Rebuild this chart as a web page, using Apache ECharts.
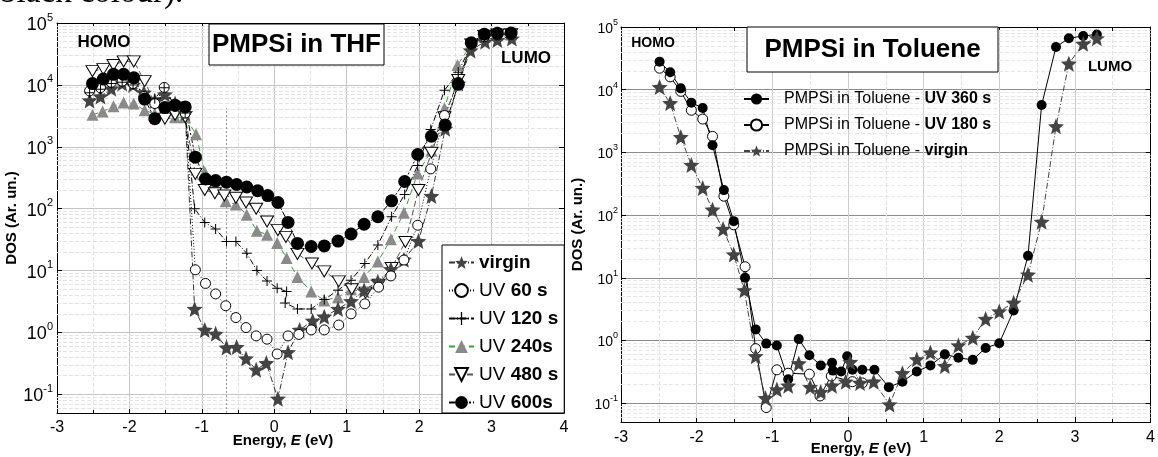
<!DOCTYPE html>
<html><head><meta charset="utf-8">
<script src="https://cdn.jsdelivr.net/npm/echarts@6/dist/echarts.min.js"></script>
<style>html,body{margin:0;padding:0;background:#fff}#c{width:1158px;height:457px}</style>
</head><body><div id="c"></div>
<script>
// ---------------- DATA ----------------
const xTickValues = [-3, -2, -1, 0, 1, 2, 3, 4];
const thfNames = ['virgin', 'UV 60 s', 'UV 120 s', 'UV 240s', 'UV 480 s', 'UV 600s'];
const toluNames = ['PMPSi in Toluene - UV 360 s', 'PMPSi in Toluene - UV 180 s', 'PMPSi in Toluene - virgin'];

const thfVirginE = [-2.55,-2.40,-2.25,-2.10,-1.95,-1.80,-1.65,-1.51,-1.37,-1.23,-1.10,-0.96,-0.81,-0.66,-0.52,-0.39,-0.25,-0.11,0.05,0.19,0.35,0.53,0.69,0.88,1.06,1.24,1.43,1.61,1.79,1.99,2.17,2.36,2.54,2.71,2.91,3.08,3.28];
const thfVirginDos = [5600,6500,8700,10500,10000,7500,5500,7000,5000,3500,2.4,1.1,0.95,0.57,0.58,0.38,0.25,0.32,0.085,0.48,1.1,1.55,1.8,2.4,3.2,4.8,6.6,10.5,15,30,160,1950,10500,36000,50000,53000,56000];

const thfUv60E = [-2.55,-2.40,-2.25,-2.10,-1.95,-1.80,-1.65,-1.52,-1.37,-1.23,-1.09,-0.95,-0.81,-0.67,-0.53,-0.39,-0.25,-0.10,0.04,0.19,0.34,0.51,0.69,0.89,1.06,1.25,1.44,1.61,1.79,1.98,2.16,2.35,2.54,2.72,2.90,3.08,3.27];
const thfUv60Dos = [8000,9000,11000,11500,10500,6500,5000,9100,4500,3500,10.3,6.2,4.2,2.7,1.74,1.2,0.88,0.78,0.45,0.88,0.93,1.1,1.1,1.32,2.0,2.9,5.4,8.2,14.8,54,440,3200,11000,45000,60000,64000,65000];

const thfUv120E = [-2.55,-2.40,-2.25,-2.10,-1.95,-1.80,-1.65,-1.52,-1.37,-1.23,-1.10,-0.96,-0.81,-0.66,-0.53,-0.38,-0.24,-0.10,0.04,0.17,0.15,0.32,0.51,0.69,0.88,1.06,1.25,1.43,1.62,1.80,1.98,2.16,2.35,2.54,2.72,2.90,3.08,3.27];
const thfUv120Dos = [7500,8500,10500,11000,10000,6000,6000,9000,4500,3500,100,60,47,29.5,29.5,19,10,6.8,5.2,4.6,3.0,2.4,2.4,3.4,4.8,7,13,26,74,170,500,1900,8200,16000,45000,60000,64000,65000];

const thfUv240E = [-2.51,-2.37,-2.22,-2.08,-1.94,-1.79,-1.65,-1.51,-1.37,-1.23,-1.08,-0.96,-0.82,-0.67,-0.53,-0.38,-0.24,-0.10,0.04,0.17,0.32,0.51,0.69,0.88,1.06,1.24,1.43,1.61,1.79,1.98,2.17,2.35,2.53,2.72,2.90,3.08,3.27];
const thfUv240Dos = [3300,3700,4500,5200,5000,3900,3400,3500,3000,3000,1600,390,257,132,117,80,44,38,28,16,7.9,4.6,3.3,3.7,5.0,7.9,14,32,86,370,870,4200,21000,45000,60000,64000,65000];

const thfUv480E = [-2.51,-2.36,-2.22,-2.08,-1.94,-1.79,-1.65,-1.51,-1.37,-1.23,-1.09,-0.96,-0.82,-0.69,-0.53,-0.39,-0.25,-0.10,0.05,0.16,0.32,0.52,0.69,0.89,1.07,1.26,1.44,1.62,1.81,1.99,2.17,2.35,2.54,2.72,2.90,3.08,3.27];
const thfUv480Dos = [16700,18000,21000,24000,24000,11500,5000,2850,3300,3000,365,200,178,163,150,126,100,62,45,35,18.6,13,9.7,6.7,5.0,4.4,5.9,11,29,200,800,3000,12000,45000,62000,65000,66000];

const thfUv600E = [-2.51,-2.36,-2.22,-2.08,-1.94,-1.79,-1.65,-1.51,-1.37,-1.23,-1.09,-0.95,-0.81,-0.66,-0.52,-0.38,-0.23,-0.09,0.05,0.19,0.32,0.51,0.69,0.88,1.06,1.24,1.43,1.62,1.80,1.98,2.17,2.36,2.54,2.72,2.90,3.08,3.27];
const thfUv600Dos = [10500,12400,14800,14800,13000,5900,2850,4300,4700,4400,680,302,285,268,246,224,195,163,126,60,27.5,24.5,25,30,39,56,74,134,275,750,1480,2240,10200,48000,66000,68000,69000];

const toluUv360E = [-2.49,-2.35,-2.21,-2.07,-1.92,-1.79,-1.64,-1.51,-1.36,-1.22,-1.08,-0.94,-0.79,-0.65,-0.51,-0.36,-0.21,-0.20,-0.09,-0.01,0.06,0.19,0.35,0.54,0.72,0.91,1.09,1.28,1.46,1.65,1.82,2.00,2.19,2.38,2.56,2.75,2.92,3.11,3.29];
const toluUv360Dos = [28000,19000,10500,6200,5100,1300,250,80,10,1.5,0.89,0.83,0.24,1.05,0.58,0.40,0.44,0.33,0.32,0.56,0.34,0.34,0.34,0.18,0.22,0.32,0.40,0.60,0.53,0.49,0.76,0.90,3.0,22.5,5700,48000,66000,72000,76000];

const toluUv180E = [-2.49,-2.35,-2.21,-2.07,-1.92,-1.79,-1.64,-1.51,-1.36,-1.22,-1.08,-0.94,-0.79,-0.51,-0.37,-0.22,0.06,0.19];
const toluUv180Dos = [22000,16000,9400,4700,3400,1800,200,70,15,0.74,0.085,0.34,0.30,0.29,0.13,0.27,0.22,0.21];

const toluVirginE = [-2.49,-2.35,-2.21,-2.07,-1.92,-1.79,-1.65,-1.51,-1.37,-1.22,-1.09,-0.94,-0.79,-0.65,-0.50,-0.36,-0.21,-0.03,0.03,0.16,0.34,0.55,0.72,0.91,1.09,1.28,1.46,1.65,1.82,2.00,2.19,2.38,2.56,2.75,2.92,3.11,3.29];
const toluVirginDos = [11000,6100,1750,630,270,122,60,23.5,6.3,0.56,0.12,0.165,0.19,0.43,0.18,0.15,0.19,0.22,0.45,0.21,0.22,0.095,0.30,0.50,0.64,0.39,0.83,1.1,2.2,2.9,4.0,11.2,78,2600,26000,54000,66000];

const dosMin = 0.05, dosMax = 100000;
const guideEnergy = -0.67, guideTop = 4200;

// ---------------- HELPERS ----------------
const FONT = 'Liberation Sans, Arial, Helvetica, sans-serif';
const STAR = 'path://M50,0L62.9,32.2L97.6,34.5L70.9,56.8L79.4,90.5L50,72L20.6,90.5L29.1,56.8L2.4,34.5L37.1,32.2Z';
const TRI_DOWN = 'path://M0,0L100,0L50,87Z';
const PLUS = 'path://M45,0H55V45H100V55H55V100H45V55H0V45H45Z';
const pairs = (E, D) => E.map((e, i) => [e, D[i]]);

function minorValues() {
  const out = [];
  for (let d = -2; d <= 4; d++) for (let k = 2; k <= 9; k++) {
    const v = Number((k * Math.pow(10, d)).toPrecision(3));
    if (v > dosMin && v < dosMax) out.push({ yAxis: v });
  }
  return out;
}

function logLabel(big, small, margin) {
  return {
    margin: margin, color: '#000',
    formatter: v => {
      const l = Math.log10(v), e = Math.round(l);
      if (Math.abs(l - e) > 1e-6) return '';
      return '{b|10}{s|' + e + '}';
    },
    rich: {
      b: { fontSize: big, fontFamily: FONT, color: '#000', lineHeight: big + 4, verticalAlign: 'bottom' },
      s: { fontSize: small, fontFamily: FONT, color: '#000', lineHeight: small, verticalAlign: 'top' }
    }
  };
}

function xAxisMain(grid, labelSize, margin, gridColor) {
  return {
    type: 'value', gridIndex: grid, position: 'bottom', min: -3, max: 4, interval: 1,
    axisLine: { show: true, onZero: false, lineStyle: { color: '#000', width: 1 } },
    axisTick: { show: true, inside: true, length: 5, lineStyle: { color: '#000' } },
    minorTick: { show: true, splitNumber: 2, length: 3, lineStyle: { color: '#000' } },
    axisLabel: { margin: margin, fontSize: labelSize, color: '#000', fontFamily: FONT,
      customValues: xTickValues },
    splitLine: { show: true, lineStyle: { color: gridColor, width: 1 } },
    minorSplitLine: { show: true, lineStyle: { color: '#e2e2e2', type: 'dashed', width: 1 } }
  };
}
function xAxisTop(grid) {
  return {
    type: 'value', gridIndex: grid, position: 'top', min: -3, max: 4, interval: 1,
    axisLine: { show: true, onZero: false, lineStyle: { color: '#000', width: 1 } },
    axisTick: { show: true, inside: true, length: 4, lineStyle: { color: '#000' } },
    minorTick: { show: true, splitNumber: 2, length: 4, lineStyle: { color: '#000' } },
    axisLabel: { show: false }, splitLine: { show: false }
  };
}
function yAxisMain(grid, big, small, margin, gridColor, nameGap) {
  return {
    type: 'log', logBase: 10, gridIndex: grid, position: 'left', min: dosMin, max: dosMax,
    axisLine: { show: true, onZero: false, lineStyle: { color: '#000', width: 1 } },
    axisTick: { show: true, inside: true, length: 5, lineStyle: { color: '#000' } },
    axisLabel: logLabel(big, small, margin),
    splitLine: { show: true, lineStyle: { color: gridColor, width: 1 } },
    name: 'DOS (Ar. un.)', nameLocation: 'middle', nameGap: nameGap, nameRotate: 90,
    nameTextStyle: { fontSize: 15, fontWeight: 'bold', fontFamily: FONT, color: '#000' }
  };
}
function yAxisRight(grid) {
  return {
    type: 'log', logBase: 10, gridIndex: grid, position: 'right', min: dosMin, max: dosMax,
    axisLine: { show: true, onZero: false, lineStyle: { color: '#000', width: 1 } },
    axisTick: { show: true, inside: true, length: 5, lineStyle: { color: '#000' } },
    axisLabel: { show: false }, splitLine: { show: false }
  };
}

function ser(name, idx, E, D, o) {
  return {
    type: 'line', name: name, xAxisIndex: idx, yAxisIndex: idx, data: pairs(E, D),
    symbol: o.symbol, symbolSize: o.size, showSymbol: true,
    itemStyle: { color: o.fill, borderColor: o.border || o.fill, borderWidth: o.border ? 1 : 0 },
    lineStyle: { color: o.line, width: o.lw || 1, type: o.dash },
    emphasis: { disabled: true }, z: o.z || 2, animation: false
  };
}

// ---------------- SERIES ----------------
const minorMark = (color) => ({
  silent: true, symbol: ['none', 'none'], z: 1, animation: false,
  label: { show: false },
  lineStyle: { color: color, type: 'dashed', width: 1 },
  data: minorValues()
});

const sThf240 = ser('UV 240s', 0, thfUv240E, thfUv240Dos, { symbol: 'triangle', size: 12, fill: '#8a8a8a', line: '#36a336', dash: [6, 4] });
sThf240.markLine = minorMark('#e2e2e2');
const sThfGuide = {
  type: 'line', name: 'guide', xAxisIndex: 0, yAxisIndex: 0, data: [],
  markLine: { silent: true, symbol: ['none', 'none'], z: 1, animation: false, label: { show: false },
    lineStyle: { color: '#999', type: [2, 2], width: 1 },
    data: [[{ coord: [guideEnergy, dosMin] }, { coord: [guideEnergy, guideTop] }]] }
};
const sThf480 = ser('UV 480 s', 0, thfUv480E, thfUv480Dos, { symbol: TRI_DOWN, size: [13, 11], fill: '#fff', border: '#000', line: '#555', dash: [6, 3] });
const sThfVirgin = ser('virgin', 0, thfVirginE, thfVirginDos, { symbol: STAR, size: 16, fill: '#444', line: '#333', dash: [6, 2, 1, 2] });
const sThf60 = ser('UV 60 s', 0, thfUv60E, thfUv60Dos, { symbol: 'circle', size: 10, fill: '#fff', border: '#000', line: '#000', dash: [1, 2] });
const sThf120 = ser('UV 120 s', 0, thfUv120E, thfUv120Dos, { symbol: PLUS, size: 10, fill: '#000', line: '#000', dash: [6, 2, 1, 2] });
const sThf600 = ser('UV 600s', 0, thfUv600E, thfUv600Dos, { symbol: 'circle', size: 13, fill: '#000', line: '#000', dash: [6, 2, 2, 2] });

const sTolu180 = ser(toluNames[1], 2, toluUv180E, toluUv180Dos, { symbol: 'circle', size: 10, fill: '#fff', border: '#000', line: '#000', dash: 'solid' });
sTolu180.markLine = minorMark('#e6e6e6');
const sTolu360 = ser(toluNames[0], 2, toluUv360E, toluUv360Dos, { symbol: 'circle', size: 10, fill: '#000', line: '#000', dash: 'solid' });
const sToluVirgin = ser(toluNames[2], 2, toluVirginE, toluVirginDos, { symbol: STAR, size: 16, fill: '#444', line: '#444', dash: [6, 2, 1, 2] });

// ---------------- LEGEND TEXT ----------------
const thfLegendText = {
  'virgin': '{b|virgin}', 'UV 60 s': '{n|UV }{b|60 s}', 'UV 120 s': '{n|UV }{b|120 s}',
  'UV 240s': '{n|UV }{b|240s}', 'UV 480 s': '{n|UV }{b|480 s}', 'UV 600s': '{n|UV }{b|600s}'
};
const toluLegendText = {};
toluNames.forEach(n => { const p = n.split(' - '); toluLegendText[n] = '{n|' + p[0] + ' - }{b|' + p[1] + '}'; });

const chart = echarts.init(document.getElementById('c'), null, { renderer: 'canvas' });
chart.setOption({
  animation: false,
  backgroundColor: '#fff',
  grid: [
    { left: 57, top: 23, width: 507, height: 390, show: false },
    { left: 621, top: 27, width: 530, height: 395, show: false }
  ],
  xAxis: [xAxisMain(0, 16, 7, '#c4c4c4'), xAxisTop(0), xAxisMain(1, 16, 8, '#cdcdcd'), xAxisTop(1)],
  yAxis: [yAxisMain(0, 18, 11, 4, '#c4c4c4', 38), yAxisRight(0), yAxisMain(1, 14, 9, 3, '#8c8c8c', 36), yAxisRight(1)],
  legend: [
    { data: thfNames, left: 442, top: 245, orient: 'vertical', itemGap: 9, itemWidth: 25, itemHeight: 16,
      padding: [8, 6, 1, 6], borderColor: '#000', borderWidth: 1, backgroundColor: '#fff',
      formatter: n => thfLegendText[n], selectedMode: false,
      textStyle: { rich: {
        n: { fontSize: 19, fontFamily: FONT, color: '#000' },
        b: { fontSize: 19, fontFamily: FONT, fontWeight: 'bold', color: '#000' } } } },
    { data: toluNames, left: 743, top: 91, orient: 'vertical', itemGap: 10, itemWidth: 25, itemHeight: 14,
      padding: 0, formatter: n => toluLegendText[n], selectedMode: false,
      textStyle: { padding: [0, 0, 0, 10], rich: {
        n: { fontSize: 16, fontFamily: FONT, color: '#000' },
        b: { fontSize: 16, fontFamily: FONT, fontWeight: 'bold', color: '#000' } } } }
  ],
  series: [sThf240, sThfGuide, sThf480, sThfVirgin, sThf60, sThf120, sThf600, sTolu180, sTolu360, sToluVirgin],
  graphic: { elements: [
    { type: 'text', x: 0, y: 10, z: 20, style: { text: 'black colour).', fontSize: 33, fontFamily: 'Liberation Serif, Times New Roman, serif', fill: '#000', align: 'left', verticalAlign: 'bottom' } },
    { type: 'rect', z: 20, shape: { x: 209, y: 24, width: 175, height: 41 }, style: { fill: '#fff', stroke: '#000', lineWidth: 1 } },
    { type: 'text', z: 21, x: 296.5, y: 45, style: { text: 'PMPSi in THF', fontSize: 26, fontWeight: 'bold', fontFamily: FONT, fill: '#000', align: 'center', verticalAlign: 'middle' } },
    { type: 'rect', z: 20, shape: { x: 747, y: 27, width: 251, height: 45 }, style: { fill: '#fff', stroke: '#000', lineWidth: 1 } },
    { type: 'text', z: 21, x: 872.5, y: 50, style: { text: 'PMPSi in Toluene', fontSize: 26, fontWeight: 'bold', fontFamily: FONT, fill: '#000', align: 'center', verticalAlign: 'middle' } },
    { type: 'text', z: 21, x: 104, y: 42, style: { text: 'HOMO', fontSize: 17, fontWeight: 'bold', fontFamily: FONT, fill: '#000', align: 'center', verticalAlign: 'middle' } },
    { type: 'text', z: 21, x: 526, y: 58, style: { text: 'LUMO', fontSize: 17, fontWeight: 'bold', fontFamily: FONT, fill: '#000', align: 'center', verticalAlign: 'middle' } },
    { type: 'text', z: 21, x: 653, y: 43, style: { text: 'HOMO', fontSize: 14, fontWeight: 'bold', fontFamily: FONT, fill: '#000', align: 'center', verticalAlign: 'middle' } },
    { type: 'text', z: 21, x: 1110, y: 67, style: { text: 'LUMO', fontSize: 15, fontWeight: 'bold', fontFamily: FONT, fill: '#000', align: 'center', verticalAlign: 'middle' } },
    { type: 'text', z: 21, x: 283, y: 441, style: { text: '{b|Energy, }{i|E}{b| (eV)}', align: 'center', verticalAlign: 'middle',
      rich: { b: { fontSize: 15, fontWeight: 'bold', fontFamily: FONT, fill: '#000' }, i: { fontSize: 15, fontWeight: 'bold', fontStyle: 'italic', fontFamily: FONT, fill: '#000' } } } },
    { type: 'text', z: 21, x: 861, y: 449, style: { text: '{b|Energy, }{i|E}{b| (eV)}', align: 'center', verticalAlign: 'middle',
      rich: { b: { fontSize: 15, fontWeight: 'bold', fontFamily: FONT, fill: '#000' }, i: { fontSize: 15, fontWeight: 'bold', fontStyle: 'italic', fontFamily: FONT, fill: '#000' } } } }
  ] }
});
</script></body></html>
